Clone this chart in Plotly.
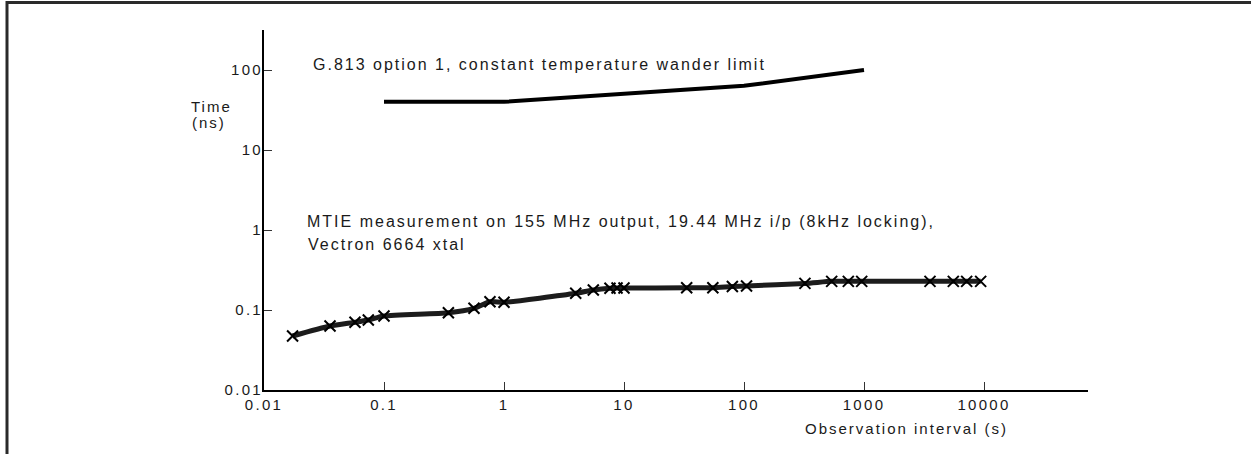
import plotly.graph_objects as go

# ---- data ----
mtie_tau = [0.0173, 0.0355, 0.0573, 0.074, 0.1, 0.344, 0.562, 0.764, 1.0,
            3.96, 5.55, 7.64, 8.75, 10.0, 33.3, 55.0, 80.0, 105.0, 322.0,
            538.0, 740.0, 957.0, 3548.0, 5550.0, 7170.0, 9380.0]
mtie_ns = [0.0473, 0.063, 0.0702, 0.075, 0.084, 0.0925, 0.105, 0.127, 0.125,
           0.162, 0.178, 0.187, 0.188, 0.188, 0.19, 0.19, 0.197, 0.2, 0.215,
           0.228, 0.228, 0.228, 0.228, 0.228, 0.228, 0.228]

limit_tau = [0.1, 1, 100, 1000]
limit_ns = [40, 40, 63.4, 100]

x_ticks = [0.01, 0.1, 1, 10, 100, 1000, 10000]
x_tick_text = ["0.01", "0.1", "1", "10", "100", "1000", "10000"]
y_ticks = [0.01, 0.1, 1, 10, 100]
y_tick_text = ["0.01", "0.1", "1", "10", "100"]

FONT = "Liberation Sans, Arial, Helvetica, sans-serif"
W, H = 1251, 454
L, R, T, B = 264, 163, 30, 64
PW, PH = W - L - R, H - T - B


def px(xp):
    return (xp - L) / PW


def py(yp):
    return (H - B - yp) / PH


fig = go.Figure()

fig.add_trace(go.Scatter(
    x=limit_tau, y=limit_ns, mode="lines",
    line=dict(color="#000000", width=4),
    showlegend=False, hoverinfo="skip"))

fig.add_trace(go.Scatter(
    x=mtie_tau, y=mtie_ns, mode="lines+markers",
    line=dict(color="#1c1c1c", width=5, shape="spline", smoothing=0.6),
    marker=dict(symbol="x-thin", size=11, line=dict(width=2, color="#000000")),
    showlegend=False, hoverinfo="skip"))

annots = [
    dict(text="G.813 option 1, constant temperature wander limit",
         x=px(313), y=py(64), xanchor="left", yanchor="middle", align="left", size=16),
    dict(text="MTIE measurement on 155 MHz output, 19.44 MHz i/p (8kHz locking),",
         x=px(307), y=py(221), xanchor="left", yanchor="middle", align="left", size=16),
    dict(text="Vectron 6664 xtal",
         x=px(308), y=py(244), xanchor="left", yanchor="middle", align="left", size=16),
    dict(text="Time", x=px(211), y=py(106), xanchor="center", yanchor="middle",
         align="center", size=15),
    dict(text="(ns)", x=px(209), y=py(122), xanchor="center", yanchor="middle",
         align="center", size=15),
    dict(text="Observation interval (s)", x=px(1008), y=py(428), xanchor="right",
         yanchor="middle", align="right", size=15),
]
for a in annots:
    fig.add_annotation(text=a["text"], x=a["x"], y=a["y"], xref="paper", yref="paper",
                       xanchor=a["xanchor"], yanchor=a["yanchor"], align=a["align"],
                       showarrow=False, borderpad=0, borderwidth=0,
                       font=dict(family=FONT, size=a["size"], color="#1a1a1a"))

# outer frame (only top and left edges are visible in the crop)
fig.add_shape(type="rect", xref="paper", yref="paper",
              x0=px(7), x1=px(1300), y0=py(500), y1=py(2.5),
              line=dict(color="#2a2a2a", width=3), layer="above")

fig.update_xaxes(type="log", range=[-2, -2 + PW / 120.0],
                 tickvals=x_ticks, ticktext=x_tick_text,
                 showgrid=False, zeroline=False,
                 showline=True, linecolor="#000000", linewidth=2,
                 ticks="inside", ticklen=8, tickwidth=1, tickcolor="#333333",
                 tickfont=dict(family=FONT, size=15, color="#1a1a1a"))
fig.update_yaxes(type="log", range=[-2, -2 + PH / 80.0],
                 tickvals=y_ticks, ticktext=y_tick_text,
                 showgrid=False, zeroline=False,
                 showline=True, linecolor="#000000", linewidth=2,
                 ticks="inside", ticklen=8, tickwidth=1, tickcolor="#333333",
                 ticklabelstandoff=-4,
                 tickfont=dict(family=FONT, size=15, color="#1a1a1a"))

fig.update_layout(width=W, height=H, autosize=False,
                  margin=dict(l=L, r=R, t=T, b=B),
                  paper_bgcolor="#ffffff", plot_bgcolor="#ffffff",
                  font=dict(family=FONT, size=15, color="#1a1a1a"))

post = """
document.body.style.margin = '0';
var gd = document.getElementById('{plot_id}');
function spaceText() {
  gd.querySelectorAll('.xtick text, .ytick text').forEach(function (t) { t.style.letterSpacing = '2.3px'; });
  gd.querySelectorAll('.annotation-text').forEach(function (t) { t.style.letterSpacing = '2px'; });
}
spaceText();
gd.on('plotly_afterplot', spaceText);
"""

fig.write_html("out.html", post_script=post, config={"displayModeBar": False})
